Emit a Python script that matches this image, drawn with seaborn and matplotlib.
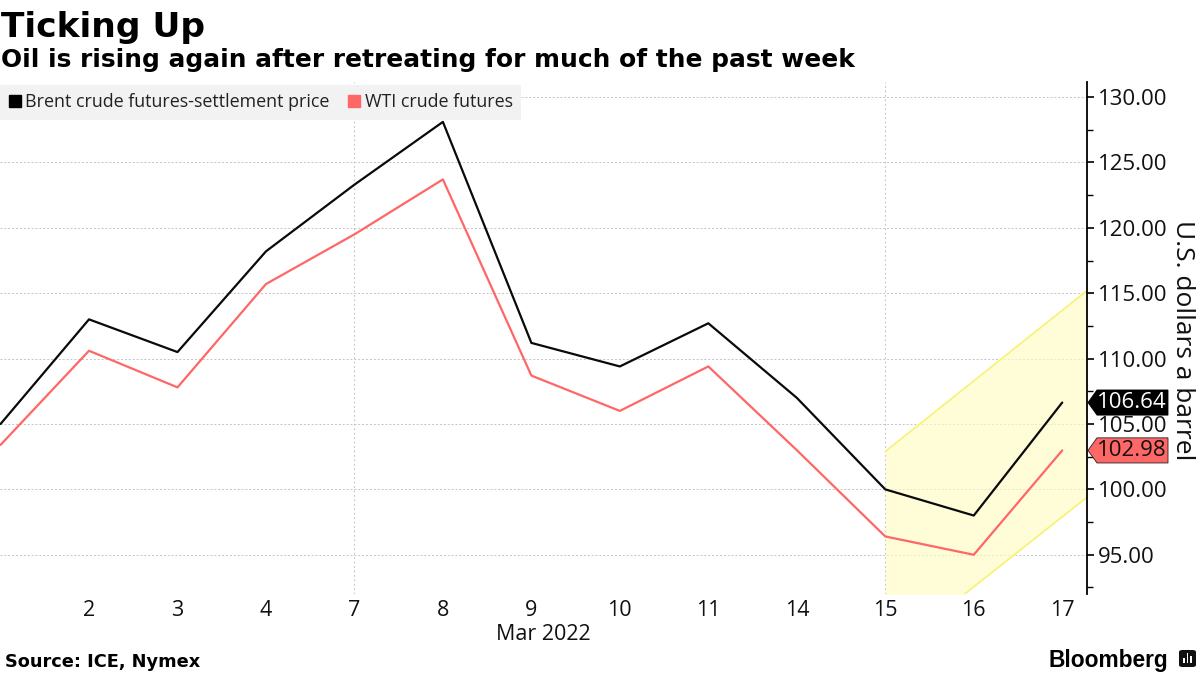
import matplotlib
matplotlib.use("Agg")
import matplotlib.pyplot as plt
from matplotlib.lines import Line2D
from matplotlib.patches import Polygon, Rectangle, FancyBboxPatch
import pandas as pd
import seaborn as sns

days = ["1", "2", "3", "4", "7", "8", "9", "10", "11", "14", "15", "16", "17"]
brent = [105.0, 113.0, 110.5, 118.2, 123.3, 128.1, 111.2, 109.4, 112.7, 107.0, 100.0, 98.0, 106.64]
wti = [103.4, 110.6, 107.8, 115.7, 119.5, 123.7, 108.7, 106.0, 109.4, 103.0, 96.4, 95.0, 102.98]
band_x = [10, 12.28]
band_upper = [102.9, 115.2]
band_lower = [87.2, 99.4]
y_ticks = [95, 100, 105, 110, 115, 120, 125, 130]
y_minor = [92.5, 97.5, 102.5, 107.5, 112.5, 117.5, 122.5, 127.5]
BRENT = "Brent crude futures-settlement price"
WTI = "WTI crude futures"
BLACK, RED = "#000000", "#ff6666"
SANS = "Open Sans"

sns.set_theme(style="white")
plt.rcParams["font.family"] = [SANS, "DejaVu Sans"]

fig = plt.figure(figsize=(12, 6.75), dpi=100)
ax = fig.add_axes([0, 1 - 594 / 675, 1087 / 1200, (594 - 82) / 675])

idx = list(range(len(days)))
df = pd.DataFrame({
    "i": idx * 2,
    "price": brent + wti,
    "series": [BRENT] * len(idx) + [WTI] * len(idx),
})

ax.fill_between(band_x, band_lower, band_upper, color="#fffbc4", alpha=0.65, lw=0, zorder=1)
ax.plot(band_x, band_upper, color="#f7f272", lw=1.2, zorder=1.5)
ax.plot(band_x, band_lower, color="#f7f272", lw=1.2, zorder=1.5)

sns.lineplot(data=df, x="i", y="price", hue="series", palette={BRENT: "#0a0a0a", WTI: RED},
             lw=1.6, legend=False, ax=ax, zorder=3)

ax.set_xlim(-0.006, 12.28)
ax.set_ylim(92.0, 131.15)
ax.set_xlabel("")
ax.set_ylabel("")
ax.set_xticks(idx[1:])
ax.set_xticklabels(days[1:], fontsize=15.5, color="#111111")
ax.tick_params(axis="x", length=0, pad=4)

ax.yaxis.tick_right()
ax.set_yticks(y_ticks)
ax.set_yticklabels([f"{v:.2f}" for v in y_ticks], fontsize=16, color="#111111")
ax.set_yticks(y_minor, minor=True)
ax.tick_params(axis="y", which="major", direction="out", length=5, width=1.2, color="black", pad=3, right=True)
ax.tick_params(axis="y", which="minor", direction="out", length=4, width=1.0, color="black", right=True)

ax.grid(axis="y", which="major", color="#c4c4c4", ls=(0, (2, 2)), lw=0.7)
for d in ["7", "15"]:
    ax.axvline(days.index(d), color="#c4c4c4", ls=(0, (1.5, 2.5)), lw=0.8, zorder=0.5)
ax.set_axisbelow(True)

for s in ["top", "left", "bottom"]:
    ax.spines[s].set_visible(False)
ax.spines["right"].set_visible(True)
ax.spines["right"].set_color("black")
ax.spines["right"].set_linewidth(1.3)

# value tags
W, H = 1200, 675
ytrans = ax.get_yaxis_transform()
px = lambda p: (p) / 1087
half = 0.96
for val, fc, tc in [(brent[-1], "#000000", "white"), (wti[-1], RED, "#111111")]:
    poly = Polygon([(px(1088), val), (px(1097), val + half), (px(1168), val + half),
                    (px(1168), val - half), (px(1097), val - half)],
                   closed=True, transform=ytrans, facecolor=fc,
                   edgecolor="#222222" if fc == RED else fc, lw=0.6, clip_on=False, zorder=6)
    ax.add_patch(poly)
    ax.text(px(1132), val, f"{val:.2f}", transform=ytrans, ha="center", va="center",
            fontsize=16, color=tc, zorder=7, clip_on=False)

# legend
handles = [Line2D([], [], ls="", marker="s", ms=8.5, color=BLACK, label=BRENT),
           Line2D([], [], ls="", marker="s", ms=8.5, color=RED, label=WTI)]
leg = ax.legend(handles=handles, ncol=2, loc="upper left", bbox_to_anchor=(0, 1 - 3 / 512),
                frameon=True, fancybox=False, facecolor="#f2f2f2", edgecolor="none", framealpha=1,
                fontsize=12.9, handlelength=0.75, handletextpad=0.2, columnspacing=1.0,
                borderpad=0.47, borderaxespad=0)
leg.set_zorder(5)
for t in leg.get_texts():
    t.set_color("#222222")

fig.text(1 / W, 1 - 28 / H, "Ticking Up", fontsize=24.8, fontweight="bold", family="DejaVu Sans", color="black", va="center", ha="left")
fig.text(1 / W, 1 - 60 / H, "Oil is rising again after retreating for much of the past week",
         fontsize=17.9, fontweight="bold", family="DejaVu Sans", color="black", va="center", ha="left")
fig.text(543 / W, 1 - 634 / H, "Mar 2022", fontsize=15.5, color="#111111", va="center", ha="center")
fig.text(5 / W, 1 - 662 / H, "Source: ICE, Nymex", fontsize=12.8, fontweight="bold", family="DejaVu Sans", color="black", va="center", ha="left")
fig.text(1183 / W, 1 - 340 / H, "U.S. dollars a barrel", fontsize=19.0, rotation=-90, color="#111111", va="center", ha="center")
fig.text(1168 / W, 1 - 660 / H, "Bloomberg", fontsize=16.4, fontweight="bold", family="Liberation Sans", color="black", va="center", ha="right")

# Bloomberg logo mark
fig.add_artist(FancyBboxPatch((1179 / W, 1 - 667 / H), 17 / W, 17 / H, boxstyle="round,pad=0,rounding_size=0.003",
                              transform=fig.transFigure, facecolor="#111111", edgecolor="none"))
for x0, h in [(1183, 5), (1186.5, 10), (1190, 7)]:
    fig.add_artist(Rectangle((x0 / W, 1 - 663 / H), 1.8 / W, h / H, transform=fig.transFigure,
                             facecolor="white", edgecolor="none"))

fig.savefig("out.png", dpi=100)
